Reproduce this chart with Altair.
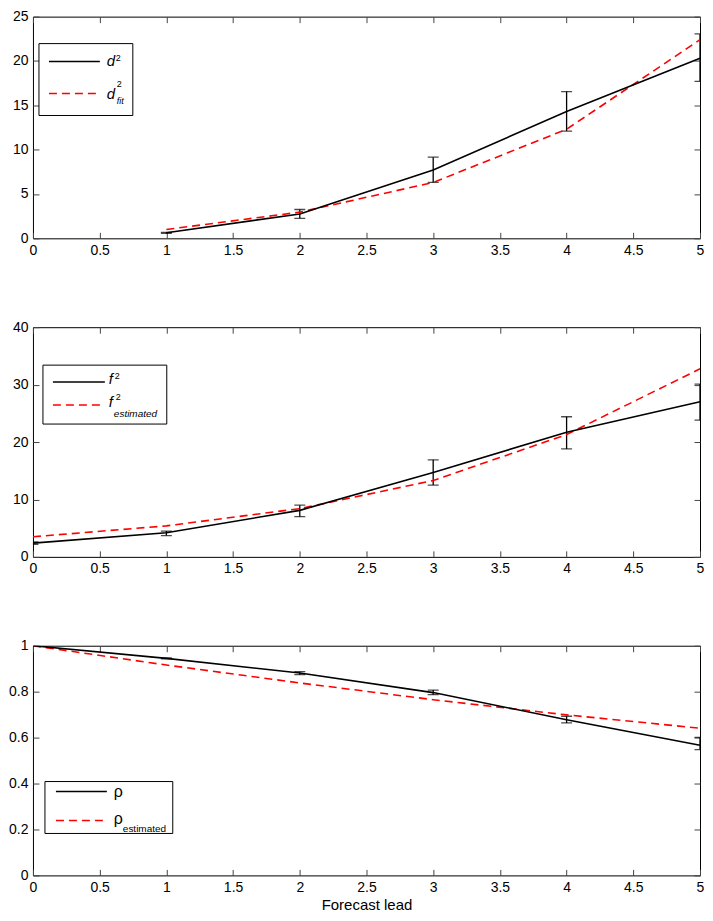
import altair as alt
import pandas as pd

lead = [0, 1, 2, 3, 4, 5]
x_ticks = [0, 0.5, 1, 1.5, 2, 2.5, 3, 3.5, 4, 4.5, 5]

# panel 1: d^2 with spread, and fitted curve
d2 = [None, 0.62, 2.75, 7.7, 14.3, 20.3]
d2_lo = [None, 0.55, 2.25, 6.3, 12.1, 17.7]
d2_hi = [None, 0.68, 3.25, 9.15, 16.55, 23.05]
d2_fit = [None, 1.0, 2.95, 6.3, 12.3, 22.4]

# panel 2: f^2 and estimate
f2 = [2.4, 4.2, 8.1, 14.7, 21.7, 27.0]
f2_lo = [2.2, 3.7, 7.0, 12.5, 18.8, 23.8]
f2_hi = [2.6, 4.5, 9.0, 16.9, 24.4, 30.1]
f2_est = [3.5, 5.4, 8.4, 13.3, 21.3, 32.75]

# panel 3: rho and estimate
rho = [1.0, 0.945, 0.881, 0.796, 0.678, 0.567]
rho_lo = [None, 0.943, 0.874, 0.787, 0.664, 0.548]
rho_hi = [None, 0.947, 0.887, 0.807, 0.693, 0.601]
rho_est = [1.0, 0.916, 0.838, 0.765, 0.699, 0.641]

W = 668
FONT = "Liberation Sans"
one_row = pd.DataFrame({"k": [0]})


def frame(obs, lo, hi, est):
    return pd.DataFrame({"lead": lead, "obs": obs, "lo": lo, "hi": hi, "est": est})


def txt(s, x, y, size=15, italic=False):
    return alt.Chart(one_row).mark_text(
        text=s, align="left", baseline="alphabetic", font=FONT, fontSize=size,
        fontStyle="italic" if italic else "normal", color="black"
    ).encode(x=alt.value(x), y=alt.value(y))


def legend_box(x0, x1, y0, y1, lx0, lx1, ly_black, ly_red):
    box = alt.Chart(one_row).mark_rect(fill="white", stroke="black", strokeWidth=1).encode(
        x=alt.value(x0), x2=alt.value(x1), y=alt.value(y0), y2=alt.value(y1))
    black = alt.Chart(one_row).mark_rule(color="black", strokeWidth=1.5).encode(
        x=alt.value(lx0), x2=alt.value(lx1), y=alt.value(ly_black))
    red = alt.Chart(one_row).mark_rule(color="red", strokeWidth=1.5, strokeDash=[8, 5]).encode(
        x=alt.value(lx0), x2=alt.value(lx1), y=alt.value(ly_red))
    return [box, black, red]


def panel(df, y_max, y_step, y_fmt, legend, h, x_title=None):
    xs = alt.Scale(domain=[0, 5], nice=False)
    ys = alt.Scale(domain=[0, y_max], nice=False)
    y_ticks = [round(i * y_step, 3) for i in range(int(round(y_max / y_step)) + 1)]
    # inward ticks: pull each axis inside the frame by the tick length
    common = dict(offset=-6, tickSize=6, domain=False, grid=False, labelFlush=False,
                  tickColor="#444", labelColor="black", labelFont=FONT, labelFontSize=14)
    x_main = alt.X("lead:Q", scale=xs, axis=alt.Axis(
        orient="bottom", values=x_ticks, format="~g", labelPadding=5, title=x_title,
        titleFont=FONT, titleFontSize=15, titleFontWeight="normal", titleColor="black",
        titlePadding=3, **common))
    y_main = alt.Y("obs:Q", scale=ys, axis=alt.Axis(
        orient="left", values=y_ticks, format=y_fmt, labelPadding=5, title=None, **common))
    x_top = alt.X("lead:Q", scale=xs, axis=alt.Axis(
        orient="top", values=x_ticks, labels=False, title=None, **common))
    y_right = alt.Y("est:Q", scale=ys, axis=alt.Axis(
        orient="right", values=y_ticks, labels=False, title=None, **common))
    x_plain = alt.X("lead:Q", scale=xs, axis=None)

    bars = alt.Chart(df).mark_rule(color="black", strokeWidth=1.3, clip=True).encode(
        x=x_plain, y=alt.Y("lo:Q", scale=ys, axis=None), y2="hi:Q")
    cap_lo = alt.Chart(df).mark_tick(orient="horizontal", size=11, thickness=1.3,
                                     color="black", clip=True).encode(
        x=x_plain, y=alt.Y("lo:Q", scale=ys, axis=None))
    cap_hi = alt.Chart(df).mark_tick(orient="horizontal", size=11, thickness=1.3,
                                     color="black", clip=True).encode(
        x=x_plain, y=alt.Y("hi:Q", scale=ys, axis=None))
    obs = alt.Chart(df).mark_line(color="black", strokeWidth=1.6, clip=True).encode(
        x=x_main, y=y_main)
    est = alt.Chart(df).mark_line(color="red", strokeWidth=1.6, strokeDash=[8, 5],
                                  clip=True).encode(x=x_top, y=y_right)
    return alt.layer(bars, cap_lo, cap_hi, est, obs, *legend).resolve_axis(
        x="independent", y="independent").properties(width=W, height=h)


p1 = panel(frame(d2, d2_lo, d2_hi, d2_fit), 25, 5, "d",
           legend_box(6, 100, 27, 99, 16, 67, 45, 77) + [
               txt("d", 74, 49, italic=True), txt("2", 83, 44, size=9),
               txt("d", 74, 82, italic=True), txt("2", 84, 70, size=9),
               txt("fit", 84, 87, size=9, italic=True)], 222)

p2 = panel(frame(f2, f2_lo, f2_hi, f2_est), 40, 10, "d",
           legend_box(10, 134, 38, 97, 20, 72, 55, 78) + [
               txt("f", 76, 57, italic=True), txt("2", 82, 52, size=9),
               txt("f", 76, 80, italic=True), txt("2", 83, 73, size=9),
               txt("estimated", 81, 90, size=10, italic=True)], 230)

p3 = panel(frame(rho, rho_lo, rho_hi, rho_est), 1, 0.2, "~g",
           legend_box(12, 140, 136, 188, 23, 74, 146, 175) + [
               txt("ρ", 81, 151, size=16), txt("ρ", 81, 179, size=16),
               txt("estimated", 90, 187, size=10)], 230, x_title="Forecast lead")

chart = alt.vconcat(p1, p2, p3, spacing=61).properties(
    padding={"left": 0, "top": 0, "right": 0, "bottom": 0}
).configure_view(stroke="black", strokeWidth=1)

chart.save("out.html", embed_options={"renderer": "svg", "actions": False})
